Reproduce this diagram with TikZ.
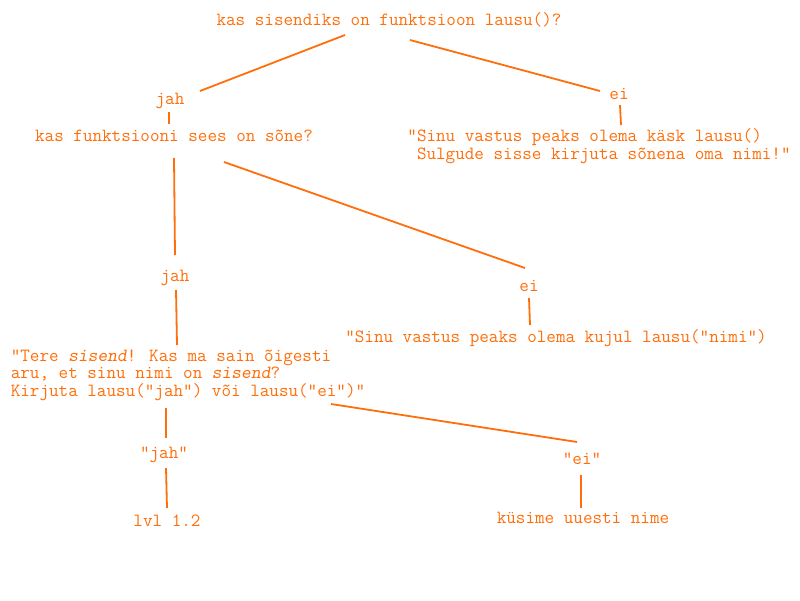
\documentclass[tikz,border=0pt]{standalone}
\usepackage{fontspec}
\usepackage{xcolor}
\usepackage{tikz}

\definecolor{oranz}{RGB}{255,110,10}

\begin{document}
\begin{tikzpicture}[
    x=1pt, y=-1pt,
    txt/.style={text=oranz, font=\ttfamily\fontsize{18.6}{17.5}\selectfont, inner sep=0pt},
    blokk/.style={txt, align=left},
    joon/.style={draw=oranz, line width=1.8pt}
]
\useasboundingbox (0,0) rectangle (800,600);

% kysimused ja vastused
\node[txt] (t1) at (389,20) {kas sisendiks on funktsioon lausu()?};
\node[txt] (jah1) at (170,101) {jah};
\node[txt] (ei1) at (619,94) {ei};
\node[txt] (q2) at (174,136) {kas funktsiooni sees on sõne?};
\node[blokk] (msg1) at (599,146) {"Sinu vastus peaks olema käsk lausu()\\\phantom{"}Sulgude sisse kirjuta sõnena oma nimi!"};
\node[txt] (jah2) at (175,278) {jah};
\node[txt] (ei2) at (529,286) {ei};
\node[txt] (msg2) at (556,338) {"Sinu vastus peaks olema kujul lausu("nimi")};
\node[blokk] (msg3) at (188,375) {"Tere \textsl{sisend}! Kas ma sain õigesti\\aru, et sinu nimi on \textsl{sisend}?\\Kirjuta lausu("jah") või lausu("ei")"};
\node[txt] (jah3) at (164,455) {"jah"};
\node[txt] (ei3) at (582,459) {"ei"};
\node[txt] (lvl) at (167,521) {lvl 1.2};
\node[txt] (kys) at (583,518) {küsime uuesti nime};

% jooned
\draw[joon] ([shift={(-44,15)}]t1.center) -- ([shift={(30,-10)}]jah1.center);
\draw[joon] ([shift={(21,20)}]t1.center) -- ([shift={(-19,-3)}]ei1.center);
\draw[joon] ([shift={(-1,11)}]jah1.center) -- ([shift={(-5,-12)}]q2.center);
\draw[joon] ([shift={(1,11)}]ei1.center) -- ([shift={(22,-21)}]msg1.center);
\draw[joon] ([shift={(0,22)}]q2.center) -- ([shift={(0,-23)}]jah2.center);
\draw[joon] ([shift={(50,26)}]q2.center) -- ([shift={(-4,-18)}]ei2.center);
\draw[joon] ([shift={(1,12)}]jah2.center) -- ([shift={(-11,-30)}]msg3.center);
\draw[joon] ([shift={(0,12)}]ei2.center) -- ([shift={(-26,-13)}]msg2.center);
\draw[joon] ([shift={(-22,33)}]msg3.center) -- ([shift={(2,-17)}]jah3.center);
\draw[joon] ([shift={(143,29)}]msg3.center) -- ([shift={(-5,-17)}]ei3.center);
\draw[joon] ([shift={(2,13)}]jah3.center) -- ([shift={(0,-13)}]lvl.center);
\draw[joon] ([shift={(-1,16)}]ei3.center) -- ([shift={(-2,-10)}]kys.center);

\end{tikzpicture}
\end{document}
